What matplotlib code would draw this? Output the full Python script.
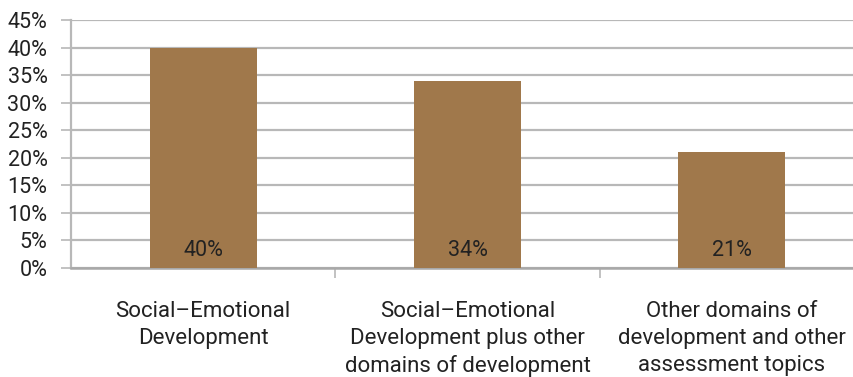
import matplotlib.pyplot as plt
from matplotlib.ticker import MultipleLocator, FuncFormatter

plt.rcParams['font.family'] = ['Roboto', 'DejaVu Sans']

# Данные
categories = ['Social–Emotional\nDevelopment',
              'Social–Emotional\nDevelopment plus other\ndomains of development',
              'Other domains of\ndevelopment and other\nassessment topics']
values = [40, 34, 21]
bar_labels = ['40%', '34%', '21%']

bar_color = '#A0784B'
grid_color = '#B8B8B8'
text_color = '#222222'

fig = plt.figure(figsize=(8.54, 3.77), dpi=100)
W, H = 854, 377
left, right = 71, 864
bottom, top = 268, 20
ax = fig.add_axes([left / W, 1 - bottom / H, (right - left) / W, (bottom - top) / H])

x = range(len(values))
ax.bar(x, values, width=0.405, color=bar_color, zorder=3)

for xi, lab in zip(x, bar_labels):
    ax.text(xi, 1.3, lab, ha='center', va='bottom', fontsize=15.5,
            color=text_color, zorder=4)

ax.set_xlim(-0.5, 2.5)
ax.set_ylim(0, 45)
ax.yaxis.set_major_locator(MultipleLocator(5))
ax.yaxis.set_major_formatter(FuncFormatter(lambda v, p: f'{int(v)}%'))
ax.grid(axis='y', color=grid_color, linewidth=1.6, zorder=0)
ax.set_axisbelow(True)

# подписи категорий
ax.set_xticks([0.5, 1.5])
ax.set_xticklabels([])
ax.tick_params(axis='x', length=7, width=1.2, color=grid_color)
for xi, cat in zip(x, categories):
    ax.text(xi, -0.133, cat, transform=ax.get_xaxis_transform(),
            ha='center', va='top', fontsize=16, color=text_color,
            linespacing=1.36)

ax.tick_params(axis='y', length=7, width=1.2, color=grid_color,
               labelsize=15.5, labelcolor=text_color, pad=10)

for s in ['top', 'right']:
    ax.spines[s].set_visible(False)
ax.spines['left'].set_color(grid_color)
ax.spines['left'].set_linewidth(1.6)
ax.spines['bottom'].set_color('#A8A8A8')
ax.spines['bottom'].set_linewidth(1.8)

fig.savefig('out.png', dpi=100)
